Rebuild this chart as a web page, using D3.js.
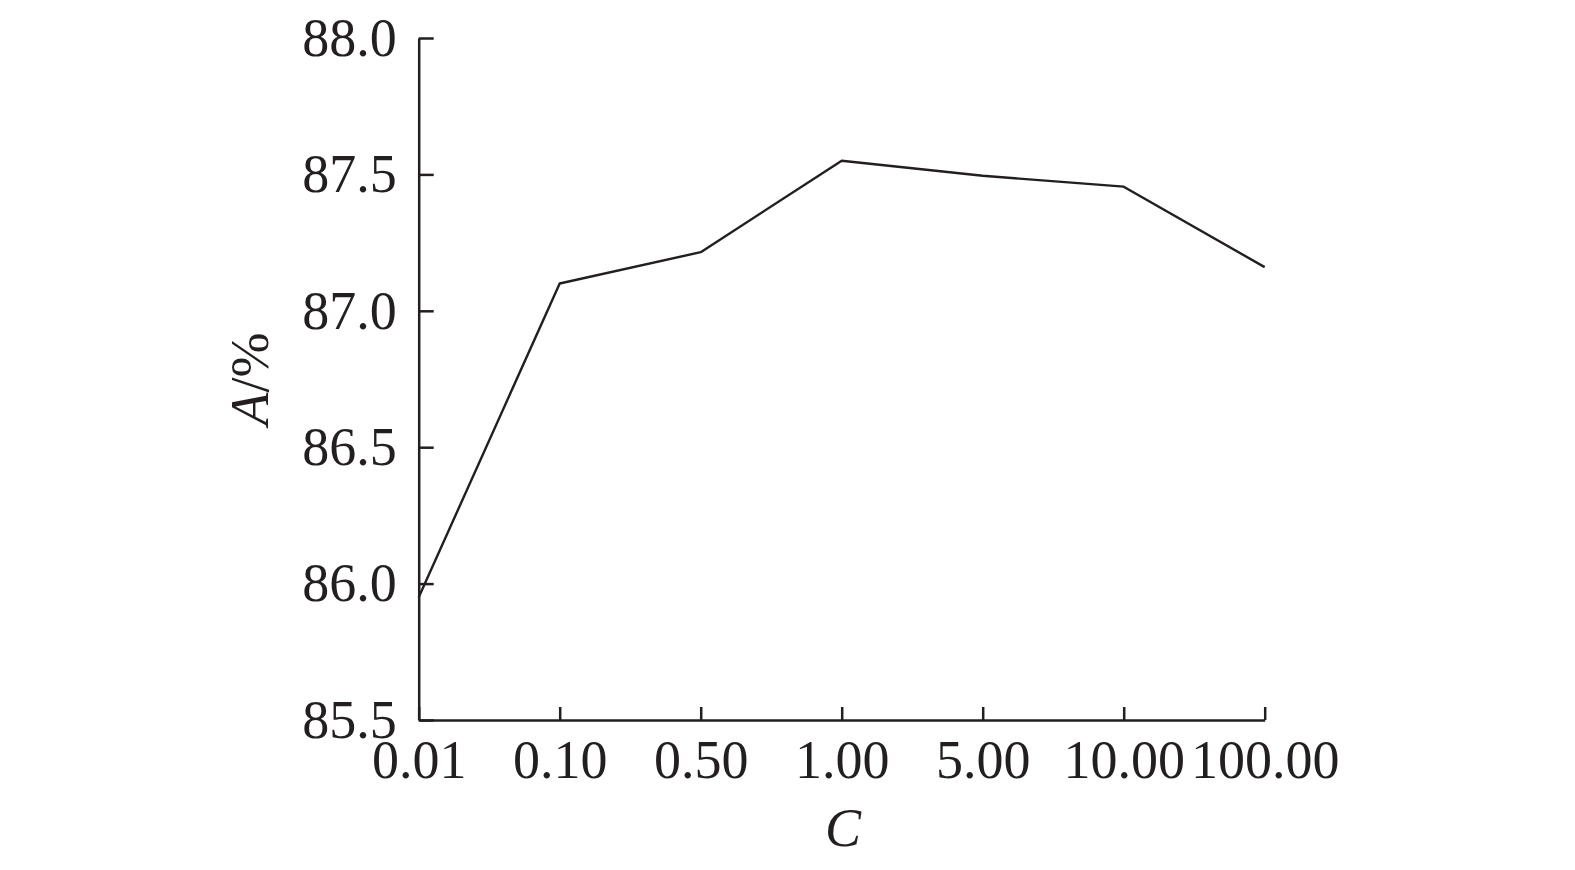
<!DOCTYPE html>
<html>
<head>
<meta charset="utf-8">
<script src="https://cdn.jsdelivr.net/npm/d3@7"></script>
<style>
  body { margin: 0; background: #fff; }
  svg text { font-family: "Liberation Serif", "Times New Roman", serif; fill: #231f20; }
</style>
</head>
<body>
<svg id="chart" width="1575" height="870"></svg>
<script>
// values
var categories = ["0.01", "0.10", "0.50", "1.00", "5.00", "10.00", "100.00"];
var accuracy = [85.95, 87.10, 87.215, 87.55, 87.495, 87.455, 87.16];
var yTicks = [85.5, 86.0, 86.5, 87.0, 87.5, 88.0];

var svg = d3.select("#chart");
var ink = "#231f20";

var x = d3.scalePoint()
    .domain(categories)
    .range([418.7, 1264.7])
    .padding(0);

var y = d3.scaleLinear()
    .domain([85.5, 88.0])
    .range([720, 38]);

// y axis, ticks point inward
svg.append("g")
    .attr("transform", "translate(418.7,0)")
    .call(d3.axisLeft(y)
      .tickValues(yTicks)
      .tickFormat(d3.format(".1f"))
      .tickSizeInner(-15)
      .tickSizeOuter(0)
      .tickPadding(22));

// x axis
svg.append("g")
    .attr("transform", "translate(0,720)")
    .call(d3.axisBottom(x)
      .tickSizeInner(-13)
      .tickSizeOuter(0)
      .tickPadding(20));

svg.selectAll(".domain, .tick line")
    .attr("stroke", ink)
    .attr("stroke-width", 2.5);

svg.selectAll(".tick text")
    .attr("font-size", 54)
    .attr("fill", ink);

// the curve
var line = d3.line()
    .x(function(d, i) { return x(categories[i]); })
    .y(function(d) { return y(d); });

svg.append("path")
    .datum(accuracy)
    .attr("d", line)
    .attr("fill", "none")
    .attr("stroke", ink)
    .attr("stroke-width", 2.4)
    .attr("stroke-linejoin", "round");

// axis titles
svg.append("text")
    .attr("x", 843)
    .attr("y", 846)
    .attr("text-anchor", "middle")
    .attr("font-size", 54)
    .attr("font-style", "italic")
    .text("C");

var yTitle = svg.append("text")
    .attr("transform", "translate(268,379) rotate(-90)")
    .attr("text-anchor", "middle")
    .attr("font-size", 54);
yTitle.append("tspan").attr("font-style", "italic").text("A");
yTitle.append("tspan").text("/%");
</script>
</body>
</html>
